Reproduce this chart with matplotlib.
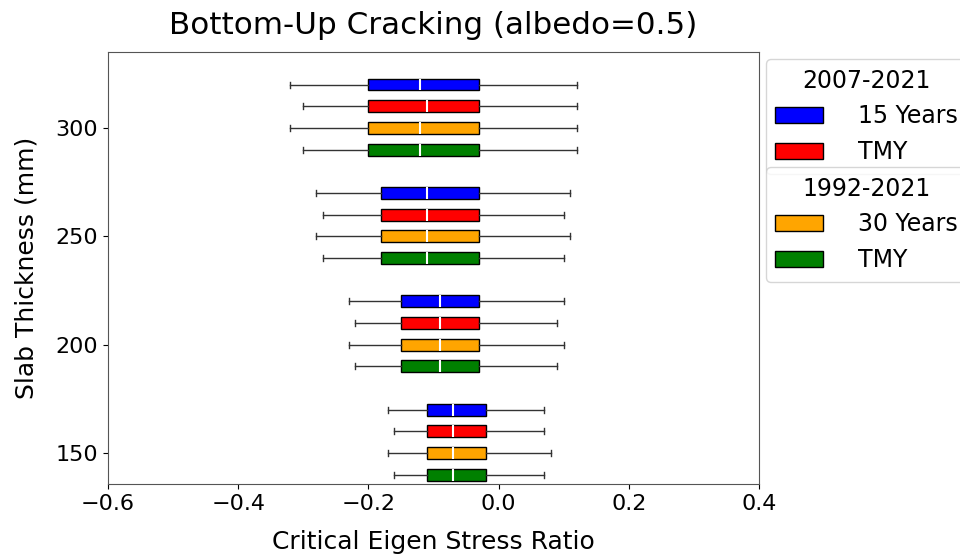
import matplotlib.pyplot as plt
from matplotlib.patches import Patch

plt.rcParams['font.size'] = 16

thickness = [150, 200, 250, 300]
offsets = [20, 10, 0, -10]
colors = ['blue', 'red', 'orange', 'green']
series = ['15 Years', 'TMY (2007-2021)', '30 Years', 'TMY (1992-2021)']

# [whislo, q1, med, q3, whishi] per thickness (150, 200, 250, 300)
blue_15y = [[-0.17, -0.11, -0.07, -0.02, 0.07],
            [-0.23, -0.15, -0.09, -0.03, 0.10],
            [-0.28, -0.18, -0.11, -0.03, 0.11],
            [-0.32, -0.20, -0.12, -0.03, 0.12]]
red_tmy07 = [[-0.16, -0.11, -0.07, -0.02, 0.07],
             [-0.22, -0.15, -0.09, -0.03, 0.09],
             [-0.27, -0.18, -0.11, -0.03, 0.10],
             [-0.30, -0.20, -0.11, -0.03, 0.12]]
orange_30y = [[-0.17, -0.11, -0.07, -0.02, 0.08],
              [-0.23, -0.15, -0.09, -0.03, 0.10],
              [-0.28, -0.18, -0.11, -0.03, 0.11],
              [-0.32, -0.20, -0.12, -0.03, 0.12]]
green_tmy92 = [[-0.16, -0.11, -0.07, -0.02, 0.07],
               [-0.22, -0.15, -0.09, -0.03, 0.09],
               [-0.27, -0.18, -0.11, -0.03, 0.10],
               [-0.30, -0.20, -0.12, -0.03, 0.12]]

all_data = [blue_15y, red_tmy07, orange_30y, green_tmy92]

fig = plt.figure(figsize=(9.6, 5.58), dpi=100)
ax = fig.add_axes([0.1125, 0.1326, 0.678, 0.7742])

for data, off, c in zip(all_data, offsets, colors):
    stats = []
    for vals in data:
        lo, q1, med, q3, hi = vals
        stats.append({'whislo': lo, 'q1': q1, 'med': med, 'q3': q3, 'whishi': hi, 'fliers': []})
    pos = [t + off for t in thickness]
    ax.bxp(stats, positions=pos, widths=5.5, vert=False, patch_artist=True,
           showfliers=False, manage_ticks=False,
           boxprops=dict(facecolor=c, edgecolor='black', linewidth=1),
           medianprops=dict(color='white', linewidth=1.5),
           whiskerprops=dict(color='#333333', linewidth=1),
           capprops=dict(color='#333333', linewidth=1))

ax.set_xlim(-0.6, 0.4)
ax.set_ylim(135.7, 335)
ax.set_yticks(thickness)
ax.set_xticks([-0.6, -0.4, -0.2, 0.0, 0.2, 0.4])
ax.set_xlabel('Critical Eigen Stress Ratio', fontsize=18, labelpad=12)
ax.set_ylabel('Slab Thickness (mm)', fontsize=18, labelpad=12)
ax.set_title('Bottom-Up Cracking (albedo=0.5)', fontsize=22.3, pad=13)
for s in ax.spines.values():
    s.set_color('#555555')

h1 = [Patch(facecolor='blue', edgecolor='black', label='15 Years'),
      Patch(facecolor='red', edgecolor='black', label='TMY')]
h2 = [Patch(facecolor='orange', edgecolor='black', label='30 Years'),
      Patch(facecolor='green', edgecolor='black', label='TMY')]
leg1 = ax.legend(handles=h1, title='2007-2021', loc='upper left', bbox_to_anchor=(1.0, 1.0),
                 fontsize=17, title_fontsize=17, handletextpad=1.5, borderaxespad=0.3)
ax.add_artist(leg1)
ax.legend(handles=h2, title='1992-2021', loc='upper left', bbox_to_anchor=(1.0, 0.75),
          fontsize=17, title_fontsize=17, handletextpad=1.5, borderaxespad=0.3)

plt.savefig('out.png', dpi=100)
